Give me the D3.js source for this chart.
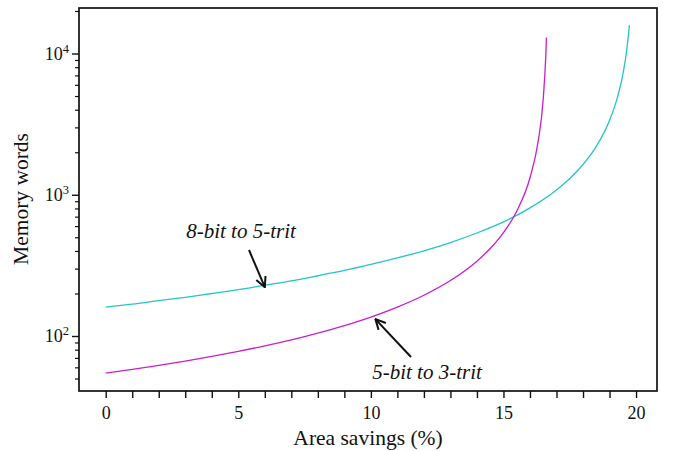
<!DOCTYPE html>
<html><head><meta charset="utf-8">
<script src="https://cdn.jsdelivr.net/npm/d3@7"></script>
<style>body{margin:0;background:#fff}svg{display:block}text{font-family:"Liberation Serif","Times New Roman",serif;fill:#111}</style>
</head><body><svg id="c" width="675" height="451"></svg>
<script>
// Series (x = area savings %, y = memory words)
const cyanX = [0,1,2,3,4,5,6,7,8,9,10,11,12,13,14,15,16,17,17.5,18,18.5,19,19.3,19.5,19.65,19.75];
const cyanY = [160,168,178,188,200,213,229,246,267,291,321,357,401,459,536,642,808,1082,1303,1637,2201,3360,4911,7093,10640,15900];
const magX = [0,1,2,3,4,5,6,7,8,9,10,11,12,13,14,14.5,15,15.5,16,16.3,16.5,16.6,16.62];
const magY = [54.6,58.1,62.0,66.5,71.8,77.9,85.2,94.0,104.8,118.5,136.2,160.1,194.2,246.9,338.7,416,539,765,1320,2336,4795,10100,13000];
const xTicks = [0,1,2,3,4,5,6,7,8,9,10,11,12,13,14,15,16,17,18,19,20];
const xLabels = [0,5,10,15,20];
const yMajor = [100,1000,10000];
const seriesNames = ["8-bit to 5-trit","5-bit to 3-trit"];
const colors = ["#22c5c8","#c81ecf"];

const svg = d3.select("#c");
const L=79, R=657, T=8, B=391;
const x = d3.scaleLinear().domain([-1.007,20.79]).range([L,R]);
const y = d3.scaleLog().domain([40.8,21000]).range([B,T]);

// minor y ticks
const yMinor=[];
[10,100,1000,10000].forEach(d=>{for(let k=2;k<=9;k++){const v=d*k; if(v>=40.8&&v<=21000) yMinor.push(v);}});

const g = svg.append("g");
// frame
g.append("rect").attr("x",L).attr("y",T).attr("width",R-L).attr("height",B-T)
 .attr("fill","none").attr("stroke","#111").attr("stroke-width",1.7);

// x axis
const xa = g.append("g").attr("transform",`translate(0,${B})`)
 .call(d3.axisBottom(x).tickValues(xTicks).tickSize(7).tickFormat(d=>xLabels.includes(d)?d:""));
xa.attr("font-family",null);
xa.select(".domain").remove();
xa.selectAll("line").attr("stroke","#111").attr("stroke-width",1.4);
xa.selectAll("text").attr("font-size",18).attr("dy","1.0em").attr("fill","#111");

// y axis major
const ya = g.append("g").attr("transform",`translate(${L},0)`)
 .call(d3.axisLeft(y).tickValues(yMajor).tickSize(7).tickFormat(""));
ya.select(".domain").remove();
ya.selectAll("line").attr("stroke","#111").attr("stroke-width",1.4);
const ym = g.append("g").attr("transform",`translate(${L},0)`)
 .call(d3.axisLeft(y).tickValues(yMinor).tickSize(4).tickFormat(""));
ym.select(".domain").remove();
ym.selectAll("line").attr("stroke","#111").attr("stroke-width",1.2);
// y labels with superscripts
yMajor.forEach(v=>{
  const t = g.append("text").attr("x",L-10).attr("y",y(v)+6).attr("text-anchor","end").attr("font-size",18);
  t.append("tspan").text("10");
  t.append("tspan").attr("font-size",12.5).attr("dy",-7).text(String(Math.round(Math.log10(v))));
});

// lines
const line = d3.line().x(d=>x(d[0])).y(d=>y(d[1])).curve(d3.curveMonotoneX);
g.append("path").datum(cyanX.map((v,i)=>[v,cyanY[i]])).attr("d",line)
 .attr("fill","none").attr("stroke",colors[0]).attr("stroke-width",1.3);
g.append("path").datum(magX.map((v,i)=>[v,magY[i]])).attr("d",line)
 .attr("fill","none").attr("stroke",colors[1]).attr("stroke-width",1.3);

// axis titles
g.append("text").attr("x",(L+R)/2).attr("y",445).attr("text-anchor","middle").attr("font-size",21.5).text("Area savings (%)");
g.append("text").attr("transform","translate(28,199) rotate(-90)").attr("text-anchor","middle").attr("font-size",21.5).text("Memory words");

// annotations
const defs = svg.append("defs");
defs.append("marker").attr("id","ah").attr("viewBox","0 0 12 12").attr("refX",11).attr("refY",6)
 .attr("markerWidth",12).attr("markerHeight",12).attr("markerUnits","userSpaceOnUse").attr("orient","auto")
 .append("path").attr("d","M1,1 L11,6 L1,11").attr("fill","none").attr("stroke","#111").attr("stroke-width",2);

g.append("text").attr("x",241).attr("y",238).attr("text-anchor","middle").attr("font-size",21).attr("font-style","italic").text(seriesNames[0]);
g.append("line").attr("x1",249).attr("y1",250).attr("x2",x(6)).attr("y2",y(229)+2)
 .attr("stroke","#111").attr("stroke-width",2).attr("marker-end","url(#ah)");
g.append("text").attr("x",427).attr("y",379).attr("text-anchor","middle").attr("font-size",21).attr("font-style","italic").text(seriesNames[1]);
g.append("line").attr("x1",411).attr("y1",357).attr("x2",x(10.17)).attr("y2",y(136)+2)
 .attr("stroke","#111").attr("stroke-width",2).attr("marker-end","url(#ah)");
</script></body></html>
